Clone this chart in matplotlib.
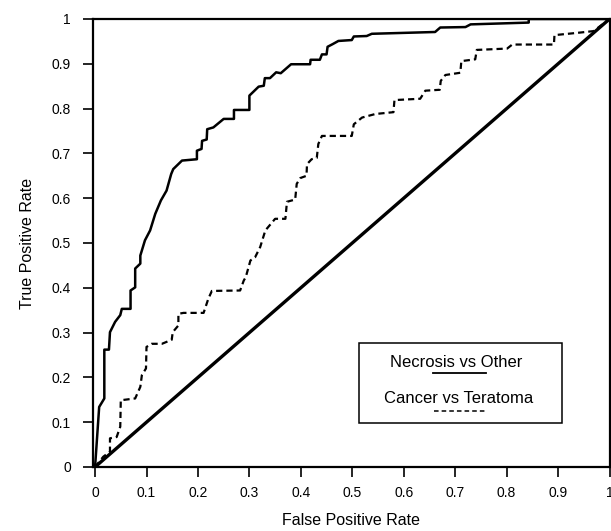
import matplotlib
matplotlib.use("Agg")
import matplotlib.pyplot as plt
from matplotlib.patches import Rectangle

plt.rcParams['font.family'] = ['Liberation Sans', 'DejaVu Sans']

# ROC curve points
necrosis_fpr = [0, 0.008, 0.018, 0.018, 0.027, 0.029, 0.039, 0.049, 0.052, 0.069, 0.069,
                0.078, 0.078, 0.088, 0.088, 0.097, 0.107, 0.117, 0.128, 0.139, 0.148,
                0.152, 0.169, 0.198, 0.198, 0.207, 0.208, 0.217, 0.218, 0.230, 0.250,
                0.270, 0.270, 0.300, 0.300, 0.318, 0.328, 0.330, 0.340, 0.352, 0.361,
                0.381, 0.418, 0.419, 0.437, 0.441, 0.450, 0.452, 0.462, 0.473, 0.499,
                0.503, 0.528, 0.538, 0.661, 0.671, 0.720, 0.730, 0.843, 0.843, 1.0]
necrosis_tpr = [0, 0.134, 0.153, 0.262, 0.262, 0.301, 0.324, 0.339, 0.353, 0.353, 0.394,
                0.401, 0.443, 0.454, 0.472, 0.506, 0.528, 0.565, 0.595, 0.617, 0.654,
                0.665, 0.684, 0.687, 0.706, 0.710, 0.728, 0.731, 0.754, 0.758, 0.777,
                0.777, 0.797, 0.797, 0.829, 0.849, 0.851, 0.868, 0.868, 0.881, 0.879,
                0.899, 0.899, 0.909, 0.909, 0.921, 0.921, 0.938, 0.944, 0.951, 0.953,
                0.961, 0.962, 0.967, 0.971, 0.981, 0.982, 0.988, 0.992, 1.0, 1.0]

cancer_fpr = [0, 0.016, 0.029, 0.029, 0.042, 0.049, 0.050, 0.078, 0.088, 0.091, 0.099,
              0.100, 0.110, 0.130, 0.149, 0.151, 0.162, 0.162, 0.172, 0.211, 0.220,
              0.227, 0.282, 0.289, 0.293, 0.302, 0.311, 0.321, 0.331, 0.350, 0.370,
              0.373, 0.389, 0.392, 0.399, 0.411, 0.412, 0.421, 0.431, 0.434, 0.441,
              0.499, 0.503, 0.519, 0.545, 0.580, 0.582, 0.632, 0.642, 0.670, 0.672,
              0.681, 0.710, 0.712, 0.739, 0.742, 0.801, 0.811, 0.892, 0.893, 0.937,
              0.969, 1.0]
cancer_tpr = [0, 0.023, 0.034, 0.064, 0.067, 0.090, 0.149, 0.153, 0.179, 0.205, 0.220,
              0.268, 0.275, 0.275, 0.284, 0.301, 0.316, 0.342, 0.344, 0.344, 0.375,
              0.393, 0.394, 0.416, 0.424, 0.461, 0.468, 0.491, 0.528, 0.554, 0.554,
              0.592, 0.597, 0.632, 0.645, 0.650, 0.676, 0.687, 0.690, 0.721, 0.739,
              0.739, 0.765, 0.780, 0.788, 0.792, 0.819, 0.822, 0.840, 0.842, 0.862,
              0.875, 0.880, 0.906, 0.910, 0.931, 0.934, 0.943, 0.943, 0.964, 0.969,
              0.973, 1.0]

chance_fpr = [0, 1]
chance_tpr = [0, 1]

ticks = [0, 0.1, 0.2, 0.3, 0.4, 0.5, 0.6, 0.7, 0.8, 0.9, 1]
tick_labels = ["0", "0.1", "0.2", "0.3", "0.4", "0.5", "0.6", "0.7", "0.8", "0.9", "1"]

fig = plt.figure(figsize=(6.11, 5.31), dpi=100)
ax = fig.add_axes([93 / 611, 64 / 531, 516.5 / 611, 448 / 531])

ax.plot(chance_fpr, chance_tpr, color="black", lw=2.4)
ax.plot(necrosis_fpr, necrosis_tpr, color="black", lw=1.8)
ax.plot(cancer_fpr, cancer_tpr, color="black", lw=1.6, linestyle=(0, (2.8, 1.8)))

ax.set_xlim(-0.004, 1.0)
ax.set_ylim(0, 1)
ax.set_xticks(ticks)
ax.set_xticklabels(tick_labels)
ax.set_yticks(ticks)
ax.set_yticklabels(tick_labels)
ax.tick_params(direction="out", length=7, width=1.2, labelsize=10, top=False, right=False)
ax.tick_params(axis="x", pad=7)
ax.tick_params(axis="y", pad=9)
for s in ax.spines.values():
    s.set_linewidth(1.6)

ax.set_xlabel("False Positive Rate", fontsize=11.5, labelpad=9)
ax.set_ylabel("True Positive Rate", fontsize=11.5, labelpad=12)

# hand-drawn style legend box
ax.add_patch(Rectangle((0.514, 0.098), 0.393, 0.179, fill=False, lw=1.1, color="black"))
ax.text(0.702, 0.234, "Necrosis vs Other", ha="center", va="center", fontsize=12)
ax.text(0.706, 0.154, "Cancer vs Teratoma", ha="center", va="center", fontsize=12)
ax.plot([0.656, 0.759], [0.210, 0.210], color="black", lw=1.3)
ax.plot([0.658, 0.759], [0.125, 0.125], color="black", lw=1.1, linestyle=(0, (3, 2)))

plt.savefig("out.png", dpi=100)
